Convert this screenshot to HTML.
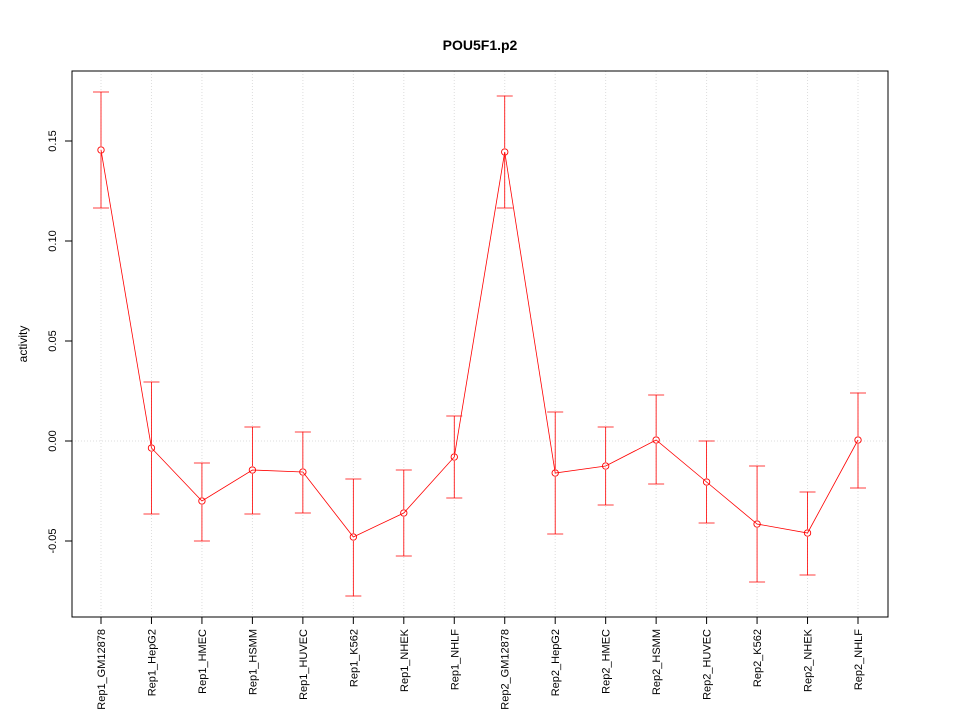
<!DOCTYPE html>
<html><head><meta charset="utf-8"><style>
body{margin:0;background:#fff;}
text{font-family:"Liberation Sans",sans-serif;}
</style></head><body>
<svg id="chart" width="960" height="720" xmlns="http://www.w3.org/2000/svg">
<rect width="960" height="720" fill="#fff"/>
<text x="480" y="50" text-anchor="middle" font-size="14" font-weight="bold">POU5F1.p2</text>
<text transform="translate(27,344) rotate(-90)" text-anchor="middle" font-size="12">activity</text>
<g id="grid"></g><g id="axes"></g><g id="marks"></g>
<rect x="72" y="71" width="816" height="546" fill="none" stroke="#000"/>
</svg>
<script>
const categories=["Rep1_GM12878","Rep1_HepG2","Rep1_HMEC","Rep1_HSMM","Rep1_HUVEC","Rep1_K562","Rep1_NHEK","Rep1_NHLF","Rep2_GM12878","Rep2_HepG2","Rep2_HMEC","Rep2_HSMM","Rep2_HUVEC","Rep2_K562","Rep2_NHEK","Rep2_NHLF"];
const values=[0.1455,-0.0035,-0.030,-0.0145,-0.0155,-0.048,-0.036,-0.008,0.1445,-0.016,-0.0125,0.0005,-0.0205,-0.0415,-0.046,0.0005];
const upper=[0.1745,0.0295,-0.011,0.007,0.0045,-0.019,-0.0145,0.0125,0.1725,0.0145,0.007,0.023,0.0,-0.0125,-0.0255,0.024];
const lower=[0.1165,-0.0365,-0.050,-0.0365,-0.036,-0.0775,-0.0575,-0.0285,0.1165,-0.0465,-0.032,-0.0215,-0.041,-0.0705,-0.067,-0.0235];
const yTicks=[-0.05,0.00,0.05,0.10,0.15];
const yTickLabels=["-0.05","0.00","0.05","0.10","0.15"];
const NS="http://www.w3.org/2000/svg";
const y=v=>441-v*2000;
const x=i=>101+i*(757/(categories.length-1));
function mk(tag,attrs,parent){const e=document.createElementNS(NS,tag);for(const k in attrs)e.setAttribute(k,attrs[k]);document.getElementById(parent).appendChild(e);return e;}
categories.forEach((c,i)=>{
  const g=mk('line',{x1:x(i),x2:x(i),y1:71,y2:617,stroke:'#ddd','stroke-dasharray':'1,2'},'grid');
  
  
  const t=mk('line',{x1:x(i),x2:x(i),y1:617,y2:624,stroke:'#000'},'axes');
  
  
  const l=mk('text',{transform:`translate(${x(i)+4},629) rotate(-90)`,'text-anchor':'end','font-size':'11'},'axes');
  l.textContent=c;
  
  
});
const hg=mk('line',{x1:72,x2:888,y1:y(0),y2:y(0),stroke:'#ddd','stroke-dasharray':'1,2'},'grid');


yTicks.forEach((v,i)=>{
  const t=mk('line',{x1:65,x2:72,y1:y(v),y2:y(v),stroke:'#000'},'axes');
  
  
  const l=mk('text',{transform:`translate(56,${y(v)}) rotate(-90)`,'text-anchor':'middle','font-size':'11'},'axes');
  l.textContent=yTickLabels[i];
  
  
});
const pl=mk('polyline',{points:values.map((v,i)=>x(i)+','+y(v)).join(' '),fill:'none',stroke:'#f00','stroke-width':0.8},'marks');


values.forEach((v,i)=>{
  const e=mk('path',{d:`M${x(i)},${y(upper[i])}V${y(v)-4}M${x(i)},${y(v)+4}V${y(lower[i])}M${x(i)-8},${y(upper[i])}H${x(i)+8}M${x(i)-8},${y(lower[i])}H${x(i)+8}`,stroke:'#f00',fill:'none','stroke-width':0.8},'marks');
  
  
  const p=mk('circle',{cx:x(i),cy:y(v),r:3.2,fill:'none',stroke:'#f00','stroke-width':0.9},'marks');
  
  
});
</script>
</body></html>
